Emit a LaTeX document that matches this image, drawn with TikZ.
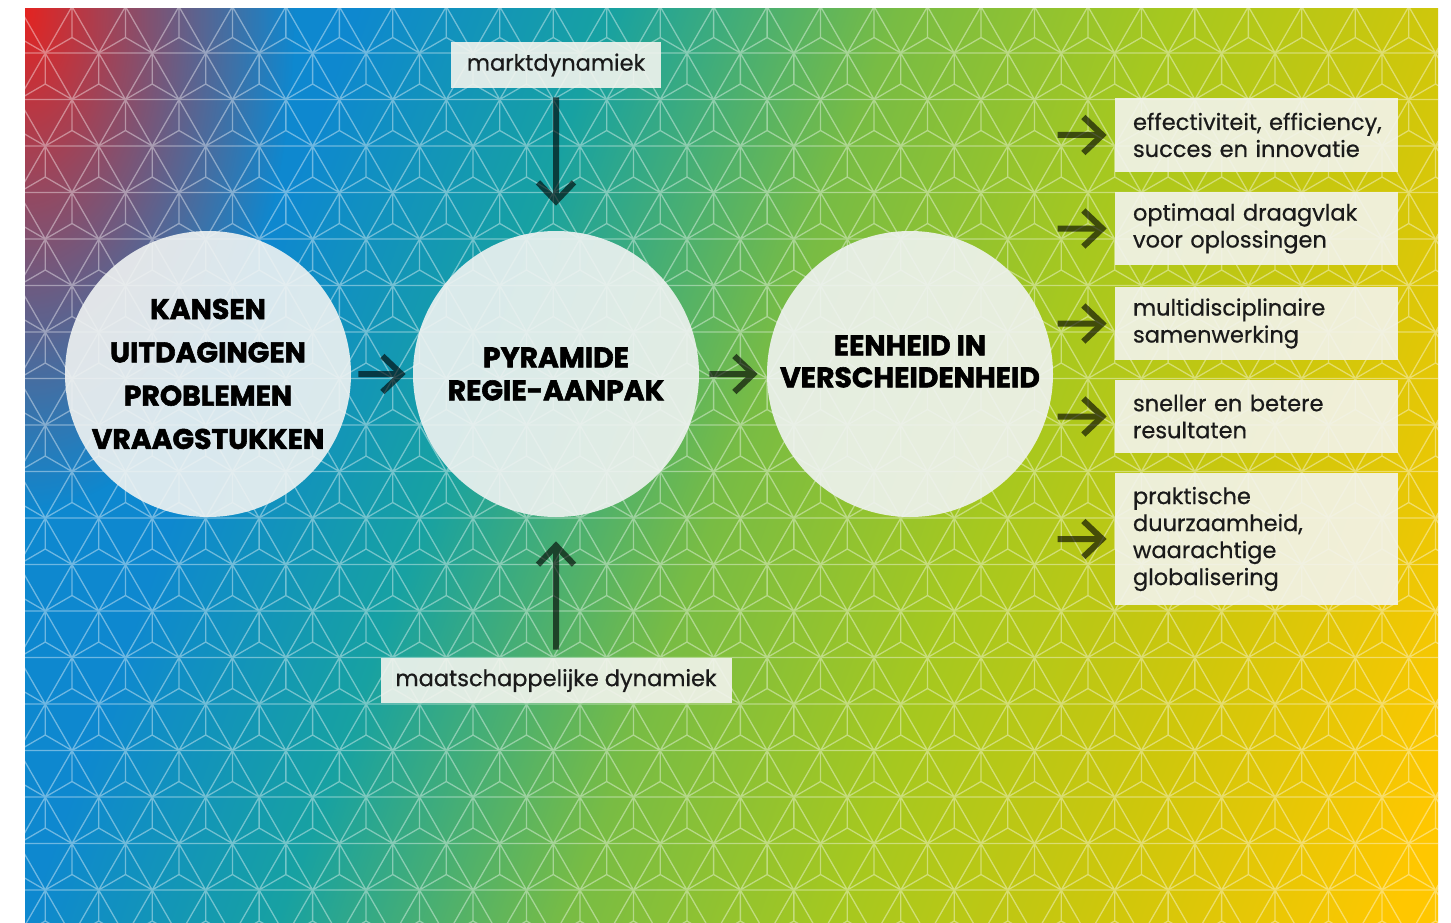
\documentclass[tikz,border=0pt]{standalone}
\usepackage{fontspec}
\setmainfont{Poppins}[UprightFeatures={FakeBold=0.6}, BoldFeatures={FakeBold=2}]
\usetikzlibrary{positioning, arrows.meta, fadings}

\definecolor{bgred}{HTML}{E42421}
\definecolor{bgblue}{HTML}{0E88CF}
\definecolor{bgteal}{HTML}{17A1A2}
\definecolor{bggreen}{HTML}{78BC44}
\definecolor{bglime}{HTML}{A6C81F}
\definecolor{bgolive}{HTML}{CFC70B}
\definecolor{bgyellow}{HTML}{FFC700}
\definecolor{bubblefill}{HTML}{F0F3F2}
\definecolor{tagfill}{HTML}{F3F4EE}
\definecolor{inkdark}{HTML}{1A1A1A}

% colour band, blue on the left to yellow bottom right
\pgfdeclarehorizontalshading{bgfade}{100bp}{color(0bp)=(bgblue); color(35bp)=(bgblue);
  color(42bp)=(bgteal); color(50bp)=(bggreen); color(57.5bp)=(bglime); color(65bp)=(bgolive);
  color(73bp)=(bgyellow); color(100bp)=(bgyellow)}
% red glow in the top left corner
\tikzfading[name=cornerglow, inner color=transparent!0, outer color=transparent!100]

\begin{document}
\begin{tikzpicture}[x=1pt, y=-1pt, node distance=350pt, semithick]
  \tikzstyle{gridline}=[white, line width=1.3pt]
  \tikzstyle{bubble}=[circle, fill=bubblefill, fill opacity=0.9, text opacity=1, minimum size=286pt, inner sep=0pt, align=center, text=black]
  \tikzstyle{headline}=[align=center, text=black]
  \tikzstyle{tag}=[rectangle, fill=tagfill, fill opacity=0.9, text opacity=1, inner sep=0pt, text=inkdark, font={\fontsize{22.5}{27}\selectfont}]
  \tikzstyle{result}=[tag, align=left, text width=247pt, inner xsep=18pt, minimum height=73pt]
  \tikzstyle{flow}=[line width=6pt, -{Straight Barb[length=19pt, width=36pt]}]

  \useasboundingbox (0,0) rectangle (1451,923);
  \fill[white] (0,0) rectangle (1451,923);

  % background with the pyramid grid
  \begin{scope}
    \clip (25,9) rectangle (1438,923);
    \shade[shading=bgfade, shading angle=-20] (-118.5,-384) rectangle (1581.5,1316);
    \fill[bgred, path fading=cornerglow] (25,9) ellipse [x radius=270pt, y radius=500pt];
    \begin{scope}[transparency group, opacity=0.4]
      \foreach \r in {0,...,19}{
        \pgfmathsetmacro{\ry}{6.5+46.5*\r}
        \pgfmathsetmacro{\rx}{72-26.735*mod(\r,2)}
        \draw[gridline] (25,\ry) -- (1438,\ry);
        \foreach \k in {-1,...,27}{
          \pgfmathsetmacro{\ax}{\rx+53.47*\k}
          \draw[gridline] (\ax,\ry) -- ++(-26.735,46.5) (\ax,\ry) -- ++(26.735,46.5)
            (\ax,\ry) -- ++(0,31) -- ++(-26.735,15.5) (\ax,\ry+31) -- ++(26.735,15.5);
        }
      }
    \end{scope}
  \end{scope}

  % the three circles
  \node[bubble, font={\bfseries\fontsize{28.3}{33}\selectfont}] (pyramide) at (556,374)
    {PYRAMIDE\\REGIE-AANPAK};
  \node[bubble, font={\bfseries\fontsize{28.3}{43.3}\selectfont}] (kansen) [left of=pyramide, xshift=2pt]
    {KANSEN\\UITDAGINGEN\\PROBLEMEN\\VRAAGSTUKKEN};
  \node[bubble] (eenheid) [right of=pyramide, xshift=4pt] {};
  \node[headline, font={\bfseries\fontsize{28.3}{32}\selectfont}, yshift=12.5pt] (eenheid-t) at (eenheid)
    {EENHEID IN\\VERSCHEIDENHEID};

  % dynamics above and below
  \node[tag, minimum width=210pt, minimum height=46pt] (markt) [above of=pyramide, node distance=309pt]
    {marktdynamiek};
  \node[tag, minimum width=351pt, minimum height=45pt] (maatsch) [below of=pyramide, node distance=306.5pt]
    {maatschappelijke dynamiek};

  % results on the right
  \node[result] (effect) at (1256.5,135) {\mbox{effectiviteit, efficiency,}\\succes en innovatie};
  \node[result] (draagvlak) [below of=effect, node distance=93.5pt] {optimaal draagvlak\\voor oplossingen};
  \node[result] (samen) [below of=draagvlak, node distance=95pt] {multidisciplinaire\\samenwerking};
  \node[result] (sneller) [below of=samen, node distance=93pt] {sneller en betere\\resultaten};
  \node[result, minimum height=132pt] (duurzaam) [below of=sneller, node distance=122.5pt]
    {praktische\\duurzaamheid,\\waarachtige\\globalisering};

  \foreach \n in {effect, draagvlak, samen, sneller, duurzaam}
    \coordinate (\n-in) at ([xshift=-57pt]\n.west);

  % arrows
  \begin{scope}[transparency group, opacity=0.62]
    \draw[flow, shorten <=7pt, shorten >=7pt] (kansen) -- (pyramide);
    \draw[flow, shorten <=10pt, shorten >=9pt] (pyramide) -- (eenheid);
    \draw[flow, shorten <=9pt, shorten >=25pt] (markt) -- (pyramide);
    \draw[flow, shorten <=8pt, shorten >=24pt] (maatsch) -- (pyramide);
    \foreach \n in {effect, draagvlak, samen, sneller, duurzaam}
      \draw[flow, shorten >=8pt] (\n-in) -- (\n);
  \end{scope}
\end{tikzpicture}
\end{document}
